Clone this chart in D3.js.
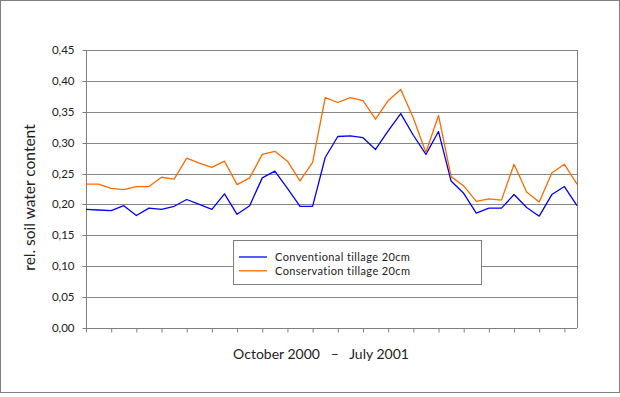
<!DOCTYPE html>
<html><head><meta charset="utf-8">
<script src="https://cdn.jsdelivr.net/npm/d3@7"></script>
<style>
html,body{margin:0;padding:0;background:#fff;}
svg{display:block;font-family:Lato,"Open Sans",sans-serif;}
</style></head>
<body>
<svg id="c" width="620" height="397"></svg>
<script>
// measurement dates (index of sampling, Oct 2000 – Jul 2001)
const categories = ["1","2","3","4","5","6","7","8","9","10","11","12","13","14","15","16","17","18","19","20",
  "21","22","23","24","25","26","27","28","29","30","31","32","33","34","35","36","37","38","39","40"];
const conventional = [0.192,0.191,0.190,0.198,0.182,0.194,0.192,0.197,0.208,0.200,
  0.192,0.217,0.184,0.198,0.243,0.254,0.226,0.197,0.197,0.276,
  0.310,0.311,0.308,0.289,0.319,0.347,0.312,0.281,0.318,0.238,
  0.218,0.186,0.194,0.194,0.216,0.195,0.181,0.216,0.229,0.198];
const conservation = [0.233,0.233,0.226,0.224,0.229,0.229,0.244,0.241,0.275,0.267,
  0.260,0.270,0.232,0.243,0.281,0.286,0.270,0.238,0.268,0.373,
  0.365,0.373,0.368,0.338,0.368,0.386,0.340,0.284,0.344,0.245,
  0.230,0.205,0.209,0.207,0.265,0.220,0.204,0.251,0.265,0.233];
const seriesNames = ["Conventional tillage 20cm","Conservation tillage 20cm"];
const yTicks = [0,0.05,0.10,0.15,0.20,0.25,0.30,0.35,0.40,0.45];
const yTitle = "rel. soil water content";
const xTitle = "October 2000   \u2013   July 2001";

const colors = ["#0000FF","#FF6A00"];
const svg = d3.select("#c");
const L=86, R=577, T=50, B=328;

svg.append("rect").attr("x",0.5).attr("y",0.5).attr("width",619).attr("height",392)
  .attr("fill","#fff").attr("stroke","#7f7f7f").attr("stroke-width",1);

const x = d3.scalePoint().domain(categories).range([L,R]);
const y = d3.scaleLinear().domain([0,0.45]).range([B,T]);

// gridlines
svg.append("g").selectAll("line").data(yTicks.slice(1)).join("line")
  .attr("x1",L).attr("x2",R)
  .attr("y1",d=>Math.round(y(d))+0.5).attr("y2",d=>Math.round(y(d))+0.5)
  .attr("stroke","#868686").attr("stroke-width",1);
// right border
svg.append("line").attr("x1",R+0.5).attr("x2",R+0.5).attr("y1",T).attr("y2",B)
  .attr("stroke","#7f7f7f");

// y axis
const fmt = d=>d3.format(".2f")(d).replace(".",",");
const ya = svg.append("g").attr("transform",`translate(${L+0.5},0)`)
  .call(d3.axisLeft(y).tickValues(yTicks).tickFormat(fmt).tickSize(4).tickPadding(8));
ya.selectAll("path,line").attr("stroke","#7f7f7f");
ya.select(".domain").attr("d",`M0,${T}V${B}`);
ya.selectAll("text").attr("font-family","Lato,sans-serif").attr("font-size",11.5).attr("fill","#222");
ya.selectAll(".tick").attr("transform",d=>`translate(0,${Math.round(y(d))+0.5})`);

// x axis
const xa = svg.append("g").attr("transform",`translate(0,${B+0.5})`)
  .call(d3.axisBottom(x).tickValues(categories.filter((c,i)=>i%2===0)).tickFormat("").tickSize(4));
xa.selectAll("path,line").attr("stroke","#7f7f7f");
xa.select(".domain").attr("d",`M${L},0H${R}`);

// lines
const line = d3.line().x((d,i)=>x(categories[i])).y(d=>y(d));
[conventional,conservation].forEach((s,k)=>{
  svg.append("path").datum(s).attr("d",line).attr("fill","none")
    .attr("stroke",colors[k]).attr("stroke-width",1.3).attr("stroke-linejoin","round");
});

// legend
const lg = svg.append("g");
lg.append("rect").attr("x",233.5).attr("y",240.5).attr("width",248).attr("height",44)
  .attr("fill","#fff").attr("stroke","#7f7f7f");
seriesNames.forEach((n,k)=>{
  const yy = 257 + k*13.8;
  lg.append("line").attr("x1",239).attr("x2",267).attr("y1",yy).attr("y2",yy)
    .attr("stroke",colors[k]).attr("stroke-width",1.3);
  lg.append("text").attr("x",275).attr("y",yy).attr("dy","0.35em")
    .attr("font-size",11).attr("letter-spacing",0.4).attr("fill","#222").text(n);
});

// titles
svg.append("text").attr("transform",`translate(30,197.5) rotate(-90)`)
  .attr("text-anchor","middle").attr("dy","0.35em").attr("font-size",15.5).attr("fill","#222").text(yTitle);
svg.append("text").attr("x",321).attr("y",354).attr("text-anchor","middle").attr("dy","0.35em")
  .attr("font-size",14).attr("fill","#222").style("white-space","pre").text(xTitle);
</script>
</body></html>
